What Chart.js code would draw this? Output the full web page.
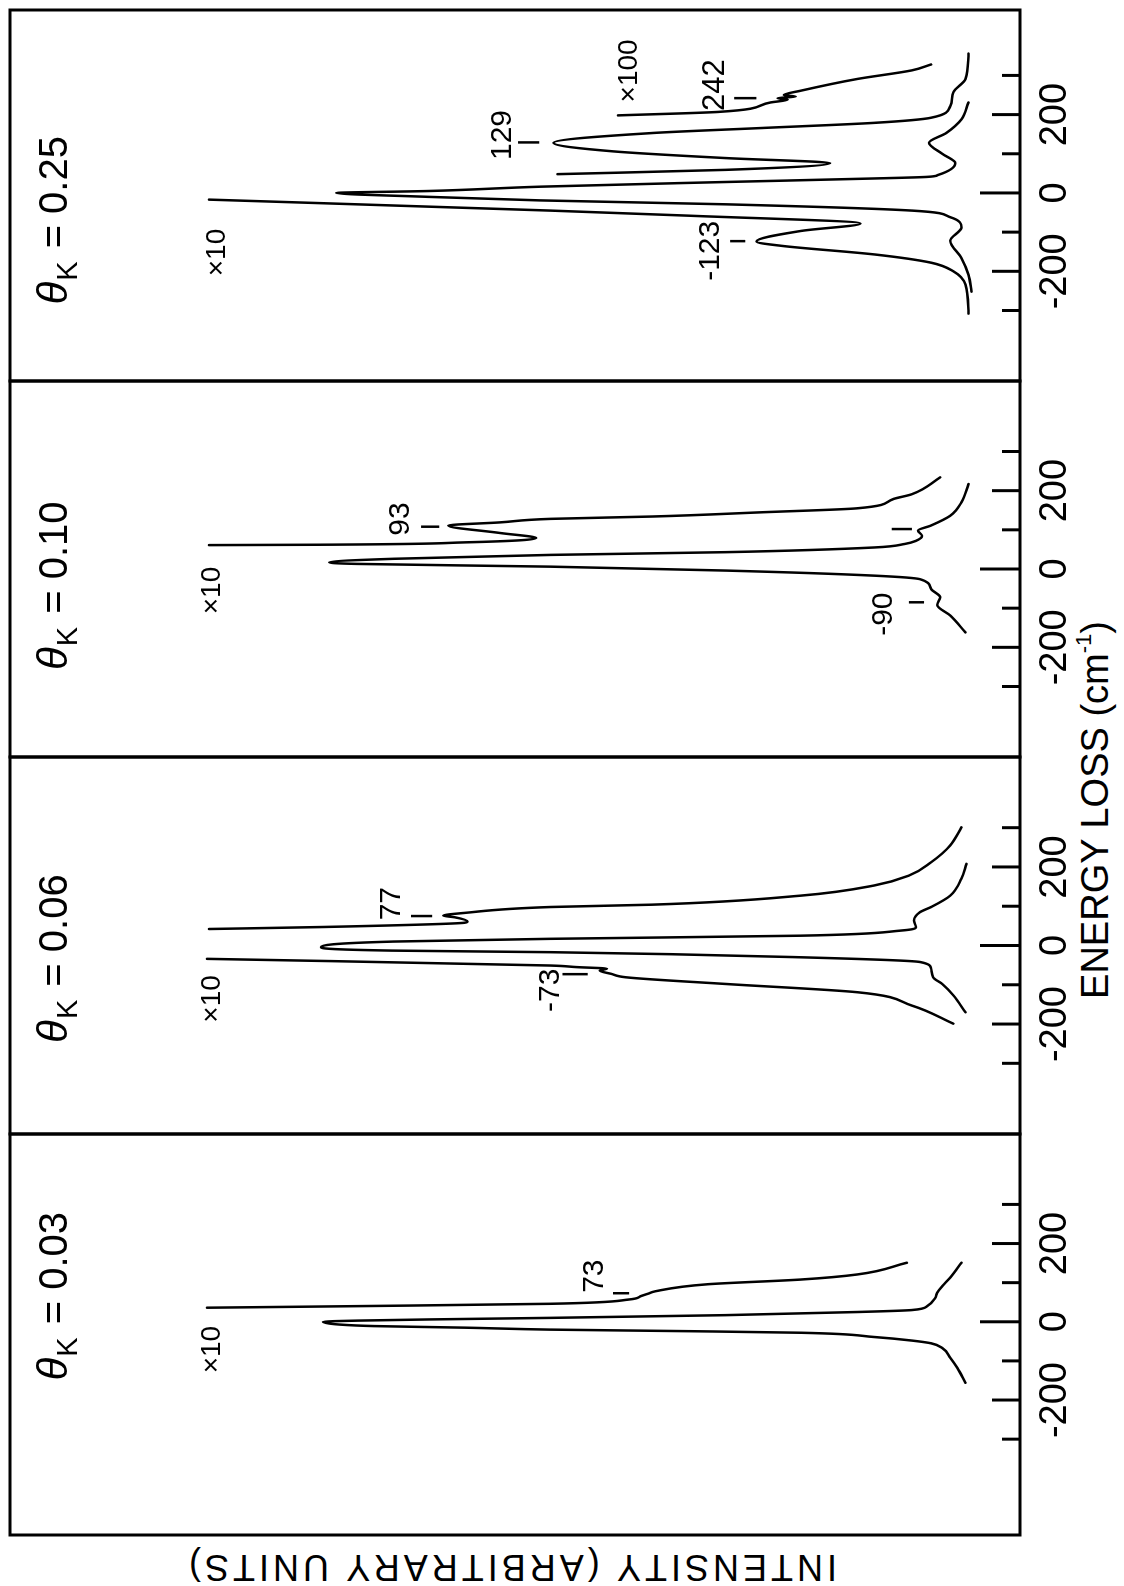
<!DOCTYPE html>
<html>
<head>
<meta charset="utf-8">
<script src="https://cdn.jsdelivr.net/npm/chart.js@4.4.1/dist/chart.umd.min.js"></script>
<style>
  html, body { margin:0; padding:0; background:#ffffff; }
  body { width:1124px; height:1586px; overflow:hidden; position:relative; }
  #fig { position:absolute; left:0; top:0; width:1586px; height:1124px; transform-origin:0 0;
         transform:translate(0px,1586px) rotate(-90deg); }
  #fig canvas { position:absolute; top:0; }
  .lab { position:absolute; white-space:nowrap; font-family:"Liberation Sans", Arial, sans-serif; color:#000; line-height:1; }
  #xlab { font-size:38px; letter-spacing:0px; left:776px; top:1076px; transform:translateX(-50%); }
  #xlab .sup { font-size:22px; position:relative; top:-17px; }
  #ylab { font-size:36px; letter-spacing:4px; left:19px; top:511px; transform:translate(-50%,-50%) rotate(-90deg); }
</style>
</head>
<body>
<div id="fig">
  <div class="lab" id="xlab">ENERGY LOSS (cm<span class="sup">-1</span>)</div>
  <div class="lab" id="ylab">INTENSITY (ARBITRARY UNITS)</div>
</div>
<script>
// ---------------- data ----------------
const thetaValues = ['0.03', '0.06', '0.10', '0.25'];
const xTickValues = [-300, -200, -100, 0, 100, 200, 300];
const xTickLabelValues = [-200, 0, 200];

// theta_K = 0.03
const e003Main = [-156,-118,-92,-67,-55,-48,-39,-28,-24,-20,-15,-11,-7,0,3,6,10,17,25,30,40,61,74,91,113,151];
const i003Main = [5.4,6.2,6.9,7.7,8.8,10.7,14.4,21.7,32.8,46.5,55.0,63.9,67.4,69.0,65.6,58.5,46.5,29.1,16.1,10.7,9.2,8.4,8.2,7.7,6.9,5.8];
const e003X10 = [36,40,46,57,66,72,78,96,108,121,151];
const i003X10 = [80.5,65.6,46.5,38.7,37.5,36.8,36.1,30.9,21.7,16.1,11.2];

// theta_K = 0.06
const e006Main = [-170,-127,-98,-81,-59,-42,-30,-17,-13,-4,10,17,25,38,47,64,85,98,127,170,208];
const i006Main = [5.4,6.6,7.7,8.6,8.8,9.9,21.7,46.5,62.1,69.2,62.1,46.5,21.7,11.8,10.3,10.5,9.9,8.8,6.9,5.8,5.3];
const e006X10 = [-199,-153,-119,-98,-81,-72,-64,-59,-55,-51,-34,0,42,47,58,61,72,76,83,98,104,127,153,178,212,255,301];
const i006X10 = [6.6,10.7,16.1,29.1,39.0,40.5,41.6,40.9,43.9,46.5,80.5,null,80.3,69.2,55.0,54.7,56.0,57.1,55.0,46.5,36.4,21.7,14.4,11.0,8.8,6.9,5.8];

// theta_K = 0.10
const e010Main = [-162,-119,-92,-72,-51,-26,-17,-4,6,13,17,26,36,43,55,64,72,85,98,111,136,170,217];
const i010Main = [5.4,6.9,8.2,7.9,8.8,9.9,14.4,29.1,46.5,65.6,68.4,62.1,46.5,29.1,14.4,11.4,10.3,9.7,10.1,8.8,6.9,5.8,5.1];
const e010X10 = [61,62,68,79,92,111,119,128,134,145,155,179,191,234];
const i010X10 = [80.3,69.2,55.0,47.9,51.5,56.6,51.5,46.5,36.4,25.4,16.1,12.5,10.7,7.9];

// theta_K = 0.25
const e025Main = [-252,-209,-166,-122,-88,-62,-45,-29,-19,-10,0,5,16,28,37,41,46,76,100,128,153,188,231];
const i025Main = [4.8,5.1,5.8,6.9,5.8,6.9,10.7,29.1,47.5,58.5,67.7,58.5,47.5,29.1,14.4,9.2,8.1,6.4,7.7,9.0,7.3,5.8,5.1];
const e025X10 = [-308,-234,-200,-178,-157,-135,-124,-97,-78,-58,-45,-17,0,48,59,76,89,106,128,153,166,179,192,222,257,291,356];
const i025X10 = [5.1,5.4,6.6,8.8,14.4,23.6,26.1,21.7,15.8,32.8,46.5,80.3,null,45.8,29.1,18.8,29.1,40.2,46.2,36.4,25.4,14.4,8.8,6.9,6.6,5.4,5.1];
const e025X100 = [198,207,231,238,242,246,250,261,291,313,328];
const i025X100 = [39.8,29.8,24.7,23.0,24.0,22.2,23.4,21.7,16.1,10.7,8.8];

// ---------------- layout ----------------
const PANEL_EDGES = [51, 452, 829, 1205, 1576];
const PANEL_XMIN = [-545, -480, -480, -480];
const PANEL_XMAX = [480, 480, 480, 467];
const FIG_H = 1124;
const PAD = 10;
const FONT = '"Liberation Sans", Arial, sans-serif';

const panels = [
  { theta: thetaValues[0], thetaE: -150,
    curves: [[e003Main, i003Main], [e003X10, i003X10]],
    texts: [ {t:'×10', e:-71, i:79.2, a:'center', s:28}, {t:'73', e:74, i:41.3, a:'left', s:30} ],
    dashes: [ {e:73, i1:40.3, i2:38.7} ] },
  { theta: thetaValues[1], thetaE: -248,
    curves: [[e006Main, i006Main], [e006X10, i006X10]],
    texts: [ {t:'×10', e:-136, i:79.2, a:'center', s:28}, {t:'77', e:64, i:61.4, a:'left', s:30}, {t:'-73', e:-59, i:45.6, a:'right', s:30} ],
    dashes: [ {e:75, i1:60.3, i2:58.2}, {e:-73, i1:45.3, i2:42.8} ] },
  { theta: thetaValues[2], thetaE: -258,
    curves: [[e010Main, i010Main], [e010X10, i010X10]],
    texts: [ {t:'×10', e:-55, i:79.2, a:'center', s:28}, {t:'93', e:85, i:60.5, a:'left', s:30}, {t:'-90', e:-60, i:12.7, a:'right', s:30} ],
    dashes: [ {e:108, i1:59.3, i2:57.5}, {e:102, i1:12.7, i2:10.7}, {e:-85, i1:11.0, i2:9.5} ] },
  { theta: thetaValues[3], thetaE: -285,
    curves: [[e025Main, i025Main], [e025X10, i025X10], [e025X100, i025X100]],
    texts: [ {t:'×10', e:-152, i:78.7, a:'center', s:28}, {t:'×100', e:231, i:37.9, a:'left', s:28},
             {t:'242', e:209, i:29.3, a:'left', s:31}, {t:'129', e:84, i:50.4, a:'left', s:30},
             {t:'-123', e:-71, i:29.8, a:'right', s:30} ],
    dashes: [ {e:242, i1:28.3, i2:26.1}, {e:129, i1:49.7, i2:47.6}, {e:-123, i1:28.7, i2:27.2} ] }
];

function annoPlugin(p, k) {
  return {
    id: 'anno' + k,
    afterDatasetsDraw(chart) {
      const ctx = chart.ctx, a = chart.chartArea, x = chart.scales.x, y = chart.scales.y;
      ctx.save();
      ctx.strokeStyle = '#000'; ctx.fillStyle = '#000';
      // frame
      ctx.lineWidth = 3;
      ctx.strokeRect(a.left, a.top, a.right - a.left, a.bottom - a.top);
      // inward tick marks
      xTickValues.forEach(v => {
        const px = x.getPixelForValue(v);
        const len = v === 0 ? 40 : (Math.abs(v) === 200 ? 28 : 18);
        ctx.beginPath(); ctx.moveTo(px, a.bottom); ctx.lineTo(px, a.bottom - len); ctx.stroke();
      });
      // feature dashes
      ctx.lineWidth = 2.5;
      p.dashes.forEach(d => {
        const px = x.getPixelForValue(d.e);
        ctx.beginPath(); ctx.moveTo(px, y.getPixelForValue(d.i1)); ctx.lineTo(px, y.getPixelForValue(d.i2)); ctx.stroke();
      });
      // text labels
      ctx.textBaseline = 'alphabetic';
      p.texts.forEach(t => {
        ctx.font = t.s + 'px ' + FONT;
        ctx.textAlign = t.a;
        ctx.fillText(t.t, x.getPixelForValue(t.e), y.getPixelForValue(t.i));
      });
      // theta label
      let px = x.getPixelForValue(p.thetaE);
      const py = y.getPixelForValue(94.4);
      ctx.textAlign = 'left';
      ctx.font = 'italic 42px ' + FONT;
      ctx.fillText('θ', px, py); px += ctx.measureText('θ').width + 1;
      ctx.font = '29px ' + FONT;
      ctx.fillText('K', px, py + 10); px += ctx.measureText('K').width + 2;
      ctx.font = '40px ' + FONT;
      ctx.fillText(' = ' + p.theta, px, py);
      ctx.restore();
    }
  };
}

const fig = document.getElementById('fig');
panels.forEach((p, k) => {
  const w = PANEL_EDGES[k + 1] - PANEL_EDGES[k] + 2 * PAD;
  const cv = document.createElement('canvas');
  cv.width = w; cv.height = FIG_H;
  cv.style.left = (PANEL_EDGES[k] - PAD) + 'px';
  cv.style.width = w + 'px'; cv.style.height = FIG_H + 'px';
  fig.appendChild(cv);
  new Chart(cv, {
    type: 'scatter',
    data: {
      datasets: p.curves.map(([E, I]) => ({
        data: E.map((e, j) => ({ x: e, y: I[j] })),
        showLine: true, borderColor: '#000', borderWidth: 2.5, pointRadius: 0,
        cubicInterpolationMode: 'monotone', spanGaps: false, fill: false,
        borderJoinStyle: 'round', borderCapStyle: 'round'
      }))
    },
    options: {
      responsive: false, animation: false, devicePixelRatio: 1,
      layout: { padding: { left: PAD, right: PAD, top: 10, bottom: 24 } },
      plugins: { legend: { display: false }, tooltip: { enabled: false }, title: { display: false } },
      scales: {
        x: {
          type: 'linear', position: 'bottom', min: PANEL_XMIN[k], max: PANEL_XMAX[k],
          afterFit: s => { s.height = 80; },
          grid: { display: false, drawTicks: false }, border: { display: false },
          ticks: {
            stepSize: 100, includeBounds: false, autoSkip: false, maxRotation: 0, minRotation: 0,
            color: '#000', padding: 13, font: { family: FONT, size: 38 },
            callback: v => xTickLabelValues.includes(v) ? String(v) : ''
          }
        },
        y: { type: 'linear', min: 0, max: 100, display: false }
      }
    },
    plugins: [annoPlugin(p, k)]
  });
});
</script>
</body>
</html>
